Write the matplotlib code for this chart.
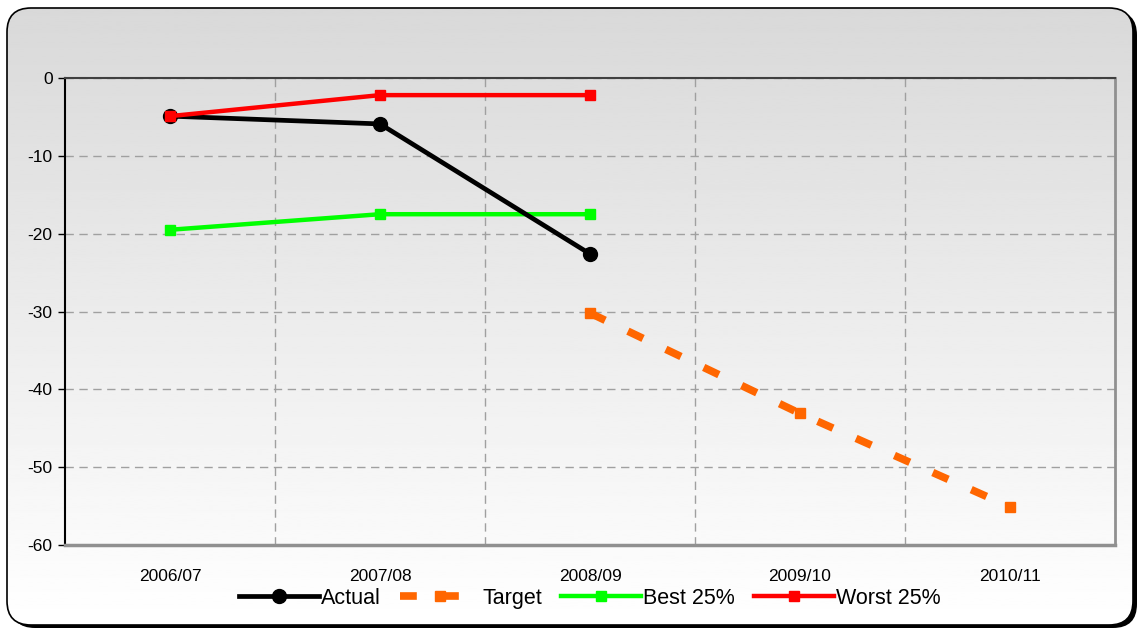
import numpy as np
import matplotlib.pyplot as plt
from matplotlib.patches import FancyBboxPatch

plt.rcParams['font.family'] = ['Liberation Sans', 'DejaVu Sans']
plt.rcParams['axes.unicode_minus'] = False

years = ['2006/07', '2007/08', '2008/09', '2009/10', '2010/11']
actual = [-4.9, -5.9, -22.6]
target = [-30.2, -43.1, -55.1]
best25 = [-19.5, -17.5, -17.5]
worst25 = [-4.9, -2.2, -2.2]

W, H = 1140, 629
fig = plt.figure(figsize=(W / 100, H / 100), dpi=100)
fig.patch.set_facecolor('white')

# background panel, in pixel coordinates
bg = fig.add_axes([0, 0, 1, 1], zorder=0)
bg.axis('off')
bg.set_xlim(0, W)
bg.set_ylim(0, H)

box = dict(boxstyle="round,pad=0,rounding_size=24")
bg.add_patch(FancyBboxPatch((11, 1), 1126, 617, facecolor='black',
                            edgecolor='none', zorder=0, **box))
grad = np.linspace(1.0, 0.85, 256).reshape(-1, 1)
img = bg.imshow(grad, cmap='gray', vmin=0, vmax=1, aspect='auto',
                extent=[7, 1133, 4, 621], origin='lower', zorder=1)
clip = FancyBboxPatch((7, 4), 1126, 617, facecolor='none',
                      edgecolor='black', linewidth=1.2, zorder=2, **box)
bg.add_patch(clip)
img.set_clip_path(clip)
bg.set_xlim(0, W)
bg.set_ylim(0, H)

ax = fig.add_axes([65 / W, (H - 545) / H, 1050 / W, 467 / H], zorder=1)
ax.set_facecolor('none')

x = np.arange(len(years))
ax.plot(x[:3], actual, color='black', lw=3.4, marker='o', ms=10,
        label='Actual', zorder=4)
ax.plot(x[2:], target, color='#ff6600', lw=5.5, ls=(0, (2.2, 3.3)), marker='s',
        ms=7, label='Target', zorder=3)
ax.plot(x[:3], best25, color='#00ff00', lw=3.2, marker='s', ms=7,
        label='Best 25%', zorder=3)
ax.plot(x[:3], worst25, color='#ff0000', lw=3.2, marker='s', ms=7,
        label='Worst 25%', zorder=5)

ax.set_xlim(-0.5, 4.5)
ax.set_ylim(-60, 0)
ax.set_yticks(range(-60, 1, 10))
ax.set_xticks(x)
ax.set_xticklabels(years)
ax.set_xticks(np.arange(0.5, 4, 1), minor=True)
ax.tick_params(axis='x', which='both', length=0, labelsize=12.5, pad=17)
ax.tick_params(axis='y', length=5, width=1, labelsize=12.5, pad=4)

ax.yaxis.grid(True, ls=(0, (6, 4)), color='#a0a0a0', lw=1)
ax.xaxis.grid(True, which='minor', ls=(0, (6, 4)), color='#a0a0a0', lw=1)
ax.xaxis.grid(False, which='major')

ax.spines['left'].set_color('black')
ax.spines['left'].set_linewidth(1.5)
ax.spines['top'].set_color('#404040')
ax.spines['top'].set_linewidth(1.5)
ax.spines['right'].set_color('#909090')
ax.spines['right'].set_linewidth(2)
ax.spines['bottom'].set_color('#909090')
ax.spines['bottom'].set_linewidth(2.5)

ax.legend(loc='upper center', bbox_to_anchor=(0.5, -0.064), ncol=4,
          frameon=False, fontsize=15.5, handlelength=3.7, handletextpad=0.1,
          columnspacing=0.9, borderaxespad=0.2)

fig.savefig('out.png', dpi=100)
